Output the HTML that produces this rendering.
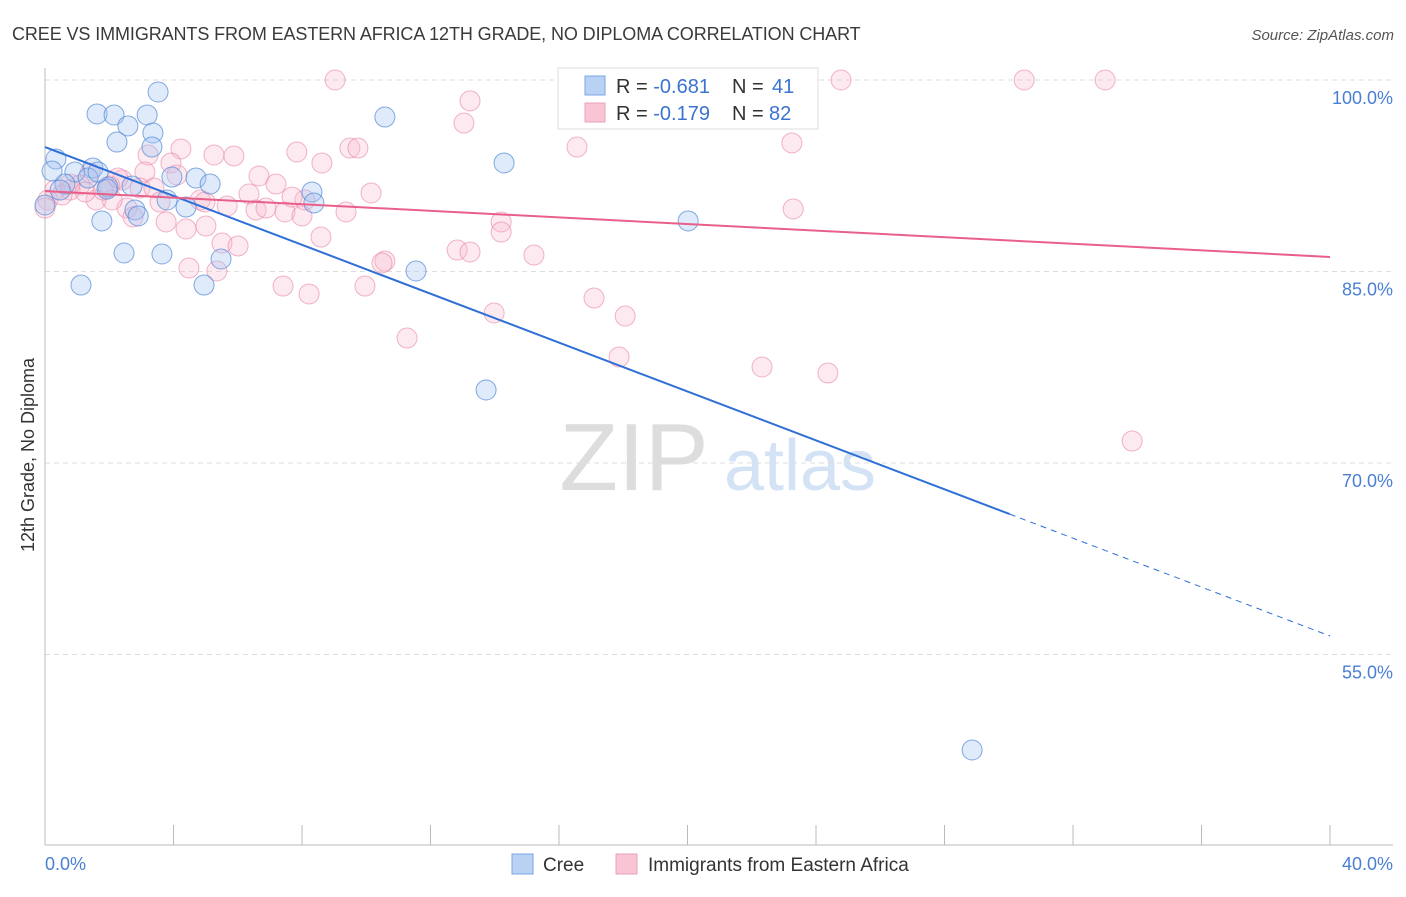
<!DOCTYPE html>
<html><head><meta charset="utf-8"><style>
body{margin:0;background:#fff;font-family:"Liberation Sans",sans-serif}
svg text{font-family:"Liberation Sans",sans-serif}
</style></head><body>
<svg id="chart" width="1406" height="892" viewBox="0 0 1406 892" xmlns="http://www.w3.org/2000/svg">
<text x="12" y="40" font-size="18" fill="#3a3a3a" letter-spacing="-0.1">CREE VS IMMIGRANTS FROM EASTERN AFRICA 12TH GRADE, NO DIPLOMA CORRELATION CHART</text>
<text x="1394" y="40" font-size="15" fill="#555" font-style="italic" text-anchor="end">Source: ZipAtlas.com</text>
<g>
<text x="634" y="490" font-size="96" fill="#ddd" text-anchor="middle" font-family="Liberation Serif">ZIP</text>
<text x="800" y="490" font-size="72" fill="#d3e2f5" text-anchor="middle">atlas</text>
</g>
<g id="grid"></g>
<g id="axes"></g>
<g id="marks"></g>
<text transform="translate(34,455) rotate(-90)" font-size="18" fill="#333" text-anchor="middle">12th Grade, No Diploma</text>
<g id="legend-top">
<rect x="558" y="68" width="260" height="61" fill="#fff" stroke="#ddd"/>
<rect x="585" y="76" width="20" height="19" fill="#b9d1f3" stroke="#7aa6e6"/>
<rect x="585" y="103" width="20" height="19" fill="#f9c5d5" stroke="#eea0b9"/>
<text x="616" y="93" font-size="20" fill="#333">R = <tspan fill="#3b73d1">-0.681</tspan><tspan x="732">N = </tspan><tspan fill="#3b73d1" x="772">41</tspan></text>
<text x="616" y="120" font-size="20" fill="#333">R = <tspan fill="#3b73d1">-0.179</tspan><tspan x="732">N = </tspan><tspan fill="#3b73d1" x="769">82</tspan></text>
</g>
<g>
<rect x="512" y="854" width="21" height="20" fill="#b9d1f3" stroke="#7aa6e6"/>
<text x="543" y="871" font-size="19" fill="#333">Cree</text>
<rect x="616" y="854" width="21" height="20" fill="#f9c5d5" stroke="#eea0b9"/>
<text x="648" y="871" font-size="19" fill="#333">Immigrants from Eastern Africa</text>
</g>
</svg>
<script>
const yTicks=[100,85,70,55];
const yTickLabels=["100.0%","85.0%","70.0%","55.0%"];
const xTickCount=10;
const creeX=[3.52,1.62,2.15,3.18,2.58,3.36,2.24,3.33,0.34,10.58,14.29,1.49,0.93,3.95,4.70,5.14,1.96,2.71,0.62,0.22,8.31,8.37,4.39,3.80,2.80,2.90,1.77,20.02,2.46,3.64,5.48,11.55,1.12,4.95,13.73,28.86,0,0.47,1.34,1.93,1.65];
const creeY=[99.06,97.34,97.26,97.26,96.40,95.85,95.14,94.75,93.81,97.10,93.50,93.11,92.79,92.40,92.32,91.85,91.62,91.70,91.85,92.87,91.23,90.37,90.05,90.60,89.82,89.35,88.96,88.96,86.45,86.37,85.98,85.04,83.94,83.94,75.72,47.52,90.21,91.38,92.32,91.46,92.79];
const eaX=[9.03,17.28,24.78,30.48,33.0,13.23,13.04,23.25,16.56,4.23,3.21,5.26,5.88,7.84,8.62,9.49,9.74,3.92,6.66,7.19,3.11,4.11,2.40,2.02,1.40,1.09,0.78,0.31,0.09,0,0.53,2.96,3.39,6.35,10.15,4.83,5.67,6.57,6.88,7.47,8.0,9.37,2.55,3.58,2.09,1.59,3.77,4.39,5.01,2.74,5.51,6.01,8.59,14.20,14.20,12.83,13.23,15.22,10.58,10.49,4.48,5.35,7.41,8.22,9.96,17.09,18.06,13.98,11.27,17.87,22.32,24.37,33.84,23.29,0.78,1.25,1.81,2.27,8.09,7.69,4.98];
const eaY=[100,100,100,100,100,98.36,96.63,95.07,94.75,94.60,94.13,94.13,94.05,94.36,93.50,94.67,94.67,93.50,92.48,91.85,92.79,92.56,92.17,91.70,92.72,91.78,91.38,91.38,90.60,89.97,90.99,91.54,91.54,91.07,91.15,90.60,90.13,89.82,89.97,89.66,89.35,89.66,89.97,90.44,90.60,90.60,88.88,88.33,88.56,89.27,87.23,87.0,87.70,88.88,88.09,86.68,86.53,86.29,85.82,85.67,85.27,85.04,83.86,83.24,83.86,82.92,81.51,81.75,79.79,78.30,77.52,77.05,71.72,89.90,91.85,91.23,91.38,92.32,90.60,90.83,90.44];
const creeTrend=[94.75,56.45];
const creeSolidEnd=30.03;
const eaTrend=[91.3,86.14];

const NS="http://www.w3.org/2000/svg";
const xs=v=>45+v/40*1285;
const ys=v=>80+(100-v)/15*191.5;
function mk(parent,tag,attrs){const e=document.createElementNS(NS,tag);for(const k in attrs)e.setAttribute(k,attrs[k]);document.getElementById(parent).appendChild(e);return e;}
yTicks.forEach((t,i)=>{
  const l=mk('grid','line',{x1:45,x2:1393,y1:ys(t),y2:ys(t),stroke:'#ddd','stroke-dasharray':'5,4'});
  
  
  const tx=mk('grid','text',{x:1393,y:ys(t)+24,'font-size':18,fill:'#4a7fd4','text-anchor':'end'});
  tx.textContent=yTickLabels[i];
  
  
});
let a=mk('axes','line',{x1:45,x2:45,y1:68,y2:845,stroke:'#bbb'});


a=mk('axes','line',{x1:45,x2:1393,y1:845,y2:845,stroke:'#bbb'});


for(let i=0;i<=xTickCount;i++){const v=i*4;
  const t=mk('axes','line',{x1:xs(v),x2:xs(v),y1:825,y2:845,stroke:'#bbb'});
  
  
}
let xl=mk('axes','text',{x:45,y:870,'font-size':18,fill:'#4a7fd4'});xl.textContent='0.0%';


xl=mk('axes','text',{x:1393,y:870,'font-size':18,fill:'#4a7fd4','text-anchor':'end'});xl.textContent='40.0%';


eaX.forEach((v,i)=>{const c=mk('marks','circle',{cx:xs(v),cy:ys(eaY[i]),r:10,fill:'rgba(248,187,205,0.3)',stroke:'rgba(232,130,165,0.6)','stroke-width':1});
  
  });
creeX.forEach((v,i)=>{const c=mk('marks','circle',{cx:xs(v),cy:ys(creeY[i]),r:10,fill:'rgba(164,196,240,0.35)',stroke:'rgba(80,135,215,0.7)','stroke-width':1});
  
  });
const cy=v=>creeTrend[0]+(creeTrend[1]-creeTrend[0])*v/40;
let ln=mk('marks','line',{x1:xs(0),y1:ys(cy(0)),x2:xs(creeSolidEnd),y2:ys(cy(creeSolidEnd)),stroke:'#2f6fd6','stroke-width':2});


ln=mk('marks','line',{x1:xs(creeSolidEnd),y1:ys(cy(creeSolidEnd)),x2:xs(40),y2:ys(cy(40)),stroke:'#2f6fd6','stroke-width':1,'stroke-dasharray':'6,5'});


ln=mk('marks','line',{x1:xs(0),y1:ys(eaTrend[0]),x2:xs(40),y2:ys(eaTrend[1]),stroke:'#e8608a','stroke-width':2});


</script>
</body></html>
